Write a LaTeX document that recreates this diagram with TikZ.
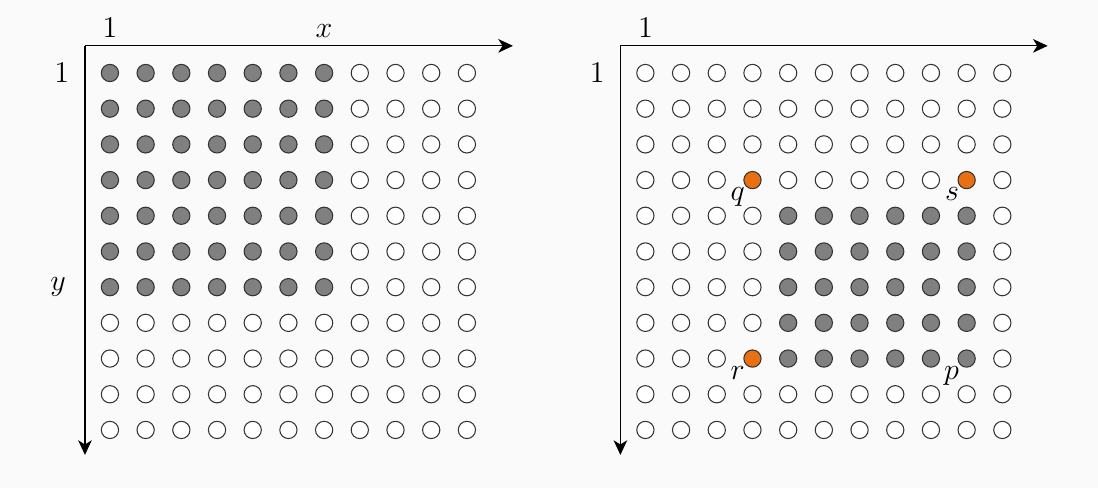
\documentclass[tikz,border=0pt]{standalone}
\usetikzlibrary{arrows.meta}

\definecolor{dotorange}{RGB}{232,112,18}
\definecolor{paper}{RGB}{250,250,250}

\begin{document}
\begin{tikzpicture}[x=0.6cm, y=0.6cm, font=\Large,
  dot/.style={draw=black!80, circle, inner sep=0pt, minimum size=0.29cm, line width=0.5pt, fill=white},
  full/.style={dot, fill=gray},
  hit/.style={dot, fill=dotorange},
  lab/.style={anchor=north east, inner sep=0.4pt},
  axis/.style={draw, line width=0.6pt, -{Stealth[length=7pt, width=6.5pt, inset=2pt]}}]
\fill[paper] (-2.08,1.045) rectangle (28.68,-12.62);
\useasboundingbox (-2.08,1.045) rectangle (28.68,-12.62);

\coordinate (lo) at (0.3,-0.24);
\coordinate (lx) at (12.29,-0.24);
\coordinate (ly) at (0.3,-11.7);
\path[axis] (lo) -- (lx);
\path[axis] (lo) -- (ly);

\node[anchor=base] (l-top) at (1,0) {1};
\node[anchor=base] (l-xlab) at (7,0) {$x$};
\node (l-left) at (-0.35,-1) {1};
\node (l-ylab) at (-0.45,-7) {$y$};

\foreach \i in {1,...,11}
  \foreach \j in {1,...,11} {
    \def\st{dot}
    \ifnum\i<8 \ifnum\j<8 \def\st{full}\fi\fi
    \node[\st] (l-\i-\j) at (\i,-\j) {};
  }

\coordinate (ro) at (15.3,-0.24);
\coordinate (rx) at (27.27,-0.24);
\coordinate (ry) at (15.3,-11.7);
\path[axis] (ro) -- (rx);
\path[axis] (ro) -- (ry);

\node[anchor=base] (r-top) at (16,0) {1};
\node (r-left) at (14.65,-1) {1};

\foreach \i in {1,...,11}
  \foreach \j in {1,...,11} {
    \def\st{dot}
    \ifnum\i>4 \ifnum\i<11 \ifnum\j>4 \ifnum\j<10 \def\st{full}\fi\fi\fi\fi
    \ifnum\i=4 \ifnum\j=4 \def\st{hit}\fi \ifnum\j=9 \def\st{hit}\fi\fi
    \ifnum\i=10 \ifnum\j=4 \def\st{hit}\fi\fi
    \node[\st] (r-\i-\j) at (15+\i,-\j) {};
  }

\node[lab] (q) at (r-4-4.south west) {$q$};
\node[lab] (s) at (r-10-4.south west) {$s$};
\node[lab] (r) at (r-4-9.south west) {$r$};
\node[lab] (p) at (r-10-9.south west) {$p$};
\end{tikzpicture}
\end{document}
